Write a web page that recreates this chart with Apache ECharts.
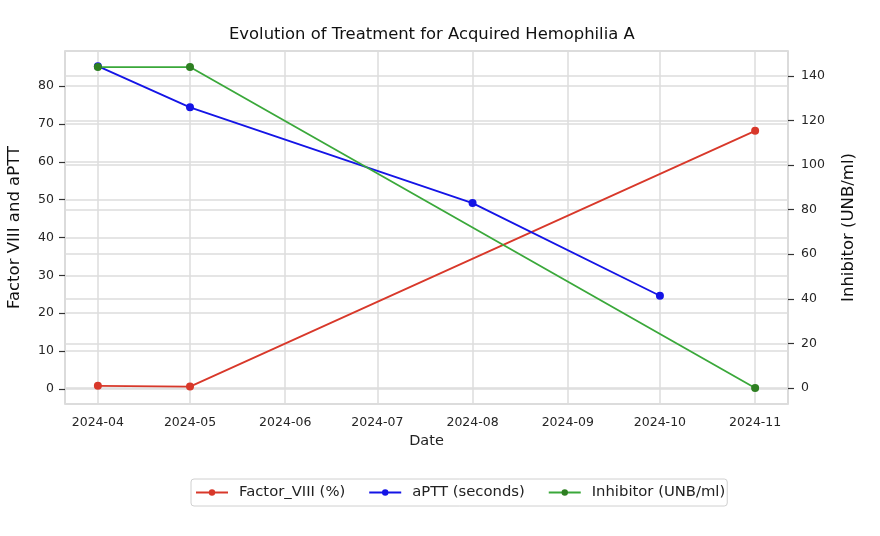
<!DOCTYPE html>
<html>
<head>
<meta charset="utf-8">
<script src="https://cdn.jsdelivr.net/npm/echarts@6/dist/echarts.min.js"></script>
<style>html,body{margin:0;padding:0;background:#fff;}#c{width:880px;height:536px;}</style>
</head>
<body>
<div id="c"></div>
<script>
const monthTicks = ['2024-04-01','2024-05-01','2024-06-01','2024-07-01','2024-08-01','2024-09-01','2024-10-01','2024-11-01'];
const factorDates = ['2024-04-01','2024-05-01','2024-11-01'];
const factorVIII = [0.8, 0.6, 68.2];
const apttDates = ['2024-04-01','2024-05-01','2024-08-01','2024-10-01'];
const aptt = [85.3, 74.4, 49.1, 24.6];
const inhibitorDates = ['2024-04-01','2024-05-01','2024-11-01'];
const inhibitor = [144, 144, 0];

const DAY = 86400000;
function pd(s){const p=s.split('-');return new Date(+p[0],+p[1]-1,+p[2]).getTime();}
function pairs(ds, vs){return ds.map((d,i)=>[pd(d), vs[i]]);}
const tickVals = monthTicks.map(pd);
const xMin = tickVals[0] - 10.7*DAY;
const xMax = tickVals[tickVals.length-1] + 10.7*DAY;

const FONT = 'DejaVu Sans';
const GRID = {show:true,lineStyle:{color:'#dcdcdc',width:1.5}};
const chart = echarts.init(document.getElementById('c'));
chart.setOption({
  animation:false,
  backgroundColor:'#fff',
  title:{text:'Evolution of Treatment for Acquired Hemophilia A',left:224,top:22,
    textStyle:{fontFamily:FONT,fontSize:16.4,fontWeight:'normal',color:'#111'}},
  grid:{left:65,right:92,top:51,bottom:132,show:true,borderColor:'#cfcfcf',borderWidth:1.5,
    containLabel:false,outerBoundsMode:'none'},
  legend:{left:191,top:479,padding:[6,2,6,4],itemGap:23,itemWidth:32,itemHeight:8,
    borderColor:'#d0d0d0',borderWidth:1,borderRadius:3,
    textStyle:{fontFamily:FONT,fontSize:14.8,color:'#222',padding:[0,0,0,6]},
    data:['Factor_VIII (%)','aPTT (seconds)','Inhibitor (UNB/ml)']},
  xAxis:{type:'value',min:xMin,max:xMax,
    name:'Date',nameLocation:'middle',nameGap:29,nameTextStyle:{fontFamily:FONT,fontSize:14.5,color:'#222'},
    axisLine:{show:false},
    axisTick:{show:false,customValues:tickVals},
    axisLabel:{fontFamily:FONT,fontSize:12.5,color:'#262626',margin:12,customValues:tickVals,
      formatter:function(v){const d=new Date(v);const m=d.getMonth()+1;return d.getFullYear()+'-'+(m<10?'0'+m:m);}},
    splitLine:GRID},
  yAxis:[
    {type:'value',min:-4,max:89.3,splitNumber:9,position:'left',
     name:'Factor VIII and aPTT',nameLocation:'middle',nameGap:42,nameTextStyle:{fontFamily:FONT,fontSize:16.5,color:'#111'},
     axisLine:{show:false},axisTick:{show:true,length:6,lineStyle:{color:'#333',width:1.2}},
     axisLabel:{fontFamily:FONT,fontSize:12.5,color:'#262626',margin:11,showMinLabel:false,showMaxLabel:false},
     splitLine:GRID},
    {type:'value',min:-7.2,max:151.2,splitNumber:8,position:'right',
     name:'Inhibitor (UNB/ml)',nameLocation:'middle',nameGap:52,nameTextStyle:{fontFamily:FONT,fontSize:16.5,color:'#111'},
     axisLine:{show:false},axisTick:{show:true,length:6,lineStyle:{color:'#333',width:1.2}},
     axisLabel:{fontFamily:FONT,fontSize:12.5,color:'#262626',margin:13,showMinLabel:false,showMaxLabel:false},
     splitLine:GRID}
  ],
  series:[
    {name:'Factor_VIII (%)',type:'line',yAxisIndex:0,data:pairs(factorDates,factorVIII),symbol:'circle',symbolSize:8,
     lineStyle:{color:'#d8382a',width:1.8},itemStyle:{color:'#d8382a'}},
    {name:'aPTT (seconds)',type:'line',yAxisIndex:0,data:pairs(apttDates,aptt),symbol:'circle',symbolSize:8,
     lineStyle:{color:'#1414e6',width:1.8},itemStyle:{color:'#1414e6'}},
    {name:'Inhibitor (UNB/ml)',type:'line',yAxisIndex:1,data:pairs(inhibitorDates,inhibitor),symbol:'circle',symbolSize:8,
     lineStyle:{color:'#3aa83a',width:1.8},itemStyle:{color:'#2e7f22'}}
  ]
});
</script>
</body>
</html>
